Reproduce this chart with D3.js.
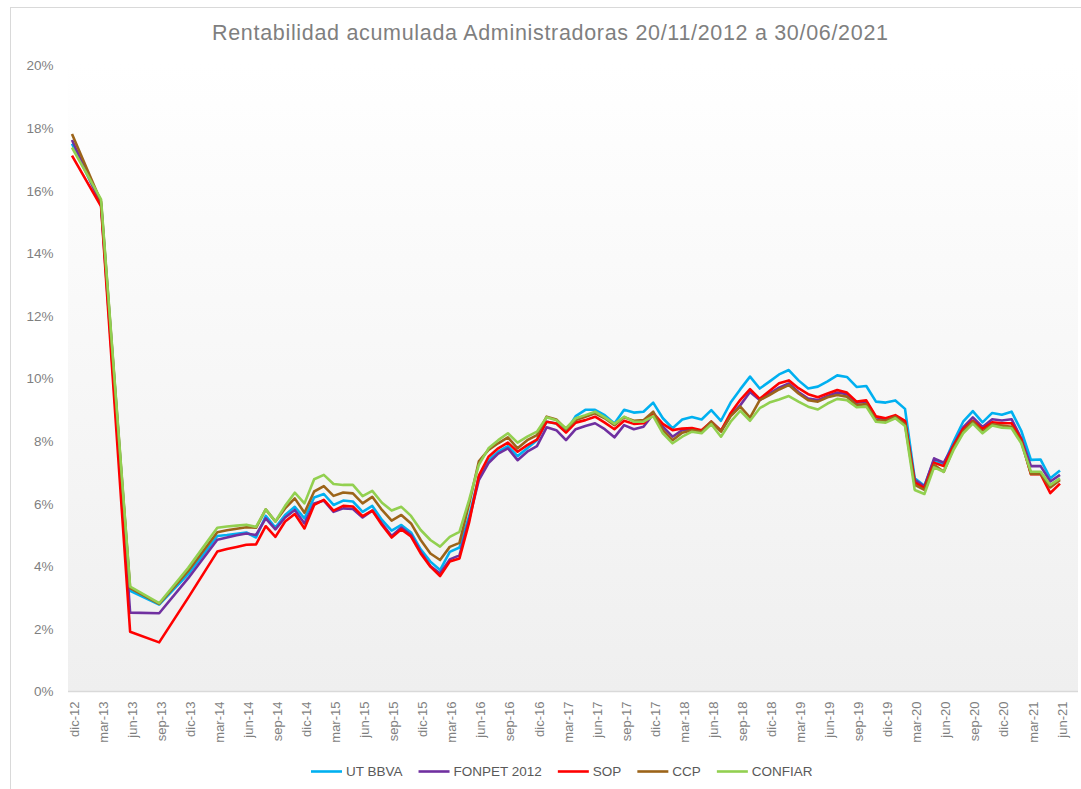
<!DOCTYPE html>
<html><head><meta charset="utf-8">
<script src="https://cdn.jsdelivr.net/npm/d3@7"></script>
<style>body{margin:0;background:#fff;} svg{display:block;font-family:Arial,"Liberation Sans",sans-serif;}</style>
</head><body><svg id="c" width="1081" height="789"></svg>
<script>
const dates = ["2012-12","2013-03","2013-06","2013-09","2013-12",
"2014-03","2014-04","2014-05","2014-06","2014-07","2014-08","2014-09","2014-10","2014-11","2014-12",
"2015-01","2015-02","2015-03","2015-04","2015-05","2015-06","2015-07","2015-08","2015-09","2015-10","2015-11","2015-12",
"2016-01","2016-02","2016-03","2016-04","2016-05","2016-06","2016-07","2016-08","2016-09","2016-10","2016-11","2016-12",
"2017-01","2017-02","2017-03","2017-04","2017-05","2017-06","2017-07","2017-08","2017-09","2017-10","2017-11","2017-12",
"2018-01","2018-02","2018-03","2018-04","2018-05","2018-06","2018-07","2018-08","2018-09","2018-10","2018-11","2018-12",
"2019-01","2019-02","2019-03","2019-04","2019-05","2019-06","2019-07","2019-08","2019-09","2019-10","2019-11","2019-12",
"2020-01","2020-02","2020-03","2020-04","2020-05","2020-06","2020-07","2020-08","2020-09","2020-10","2020-11","2020-12",
"2021-01","2021-02","2021-03","2021-04","2021-05","2021-06"];

const tickLabels = ["dic-12","mar-13","jun-13","sep-13","dic-13","mar-14","jun-14","sep-14","dic-14","mar-15","jun-15","sep-15","dic-15","mar-16","jun-16","sep-16","dic-16","mar-17","jun-17","sep-17","dic-17","mar-18","jun-18","sep-18","dic-18","mar-19","jun-19","sep-19","dic-19","mar-20","jun-20","sep-20","dic-20","mar-21","jun-21"];

const yTicks = [0,2,4,6,8,10,12,14,16,18,20];

const seriesNames = ["UT BBVA","FONPET 2012","SOP","CCP","CONFIAR"];

const utBbva = [17.5,15.6,3.22,2.78,3.75,
4.97,5.0,5.04,5.08,4.92,5.61,5.24,5.64,5.9,5.53,
6.2,6.31,5.96,6.1,6.07,5.74,5.93,5.48,5.14,5.32,5.08,4.54,
4.15,3.88,4.46,4.6,5.6,6.86,7.39,7.66,7.84,7.52,7.77,8.03,
8.62,8.56,8.3,8.8,9.0,9.0,8.83,8.56,9.0,8.91,8.94,9.23,
8.73,8.41,8.69,8.77,8.69,8.99,8.65,9.23,9.66,10.06,9.68,9.9,
10.13,10.27,9.94,9.68,9.74,9.91,10.1,10.05,9.73,9.76,9.26,9.23,
9.3,9.03,6.81,6.57,7.4,7.25,7.98,8.62,8.96,8.6,8.9,8.84,
8.94,8.33,7.4,7.41,6.81,7.06];

const fonpet2012 = [17.62,15.55,2.52,2.5,3.62,
4.85,4.92,4.99,5.05,5.0,5.53,5.18,5.56,5.8,5.37,
6.01,6.1,5.74,5.85,5.83,5.56,5.78,5.37,4.97,5.24,5.0,4.46,
4.01,3.77,4.22,4.35,5.5,6.75,7.3,7.6,7.77,7.39,7.66,7.84,
8.44,8.35,8.03,8.38,8.48,8.57,8.38,8.12,8.51,8.38,8.46,8.86,
8.46,8.14,8.35,8.37,8.3,8.62,8.33,8.83,9.15,9.57,9.31,9.52,
9.71,9.84,9.57,9.36,9.31,9.44,9.55,9.5,9.23,9.26,8.76,8.69,
8.8,8.62,6.76,6.55,7.45,7.31,7.87,8.44,8.76,8.45,8.7,8.66,
8.7,8.09,7.2,7.2,6.71,6.92];

const sop = [17.12,15.5,1.91,1.57,3.0,
4.47,4.55,4.62,4.69,4.7,5.28,4.94,5.43,5.67,5.21,
5.96,6.12,5.78,5.93,5.91,5.6,5.78,5.32,4.92,5.18,4.95,4.41,
3.99,3.69,4.15,4.25,5.4,6.9,7.5,7.77,7.95,7.66,7.87,8.05,
8.62,8.56,8.27,8.59,8.67,8.78,8.59,8.38,8.65,8.55,8.57,8.89,
8.55,8.35,8.4,8.42,8.35,8.62,8.33,8.9,9.32,9.66,9.35,9.6,
9.85,9.94,9.69,9.5,9.4,9.52,9.63,9.55,9.26,9.3,8.79,8.73,
8.83,8.65,6.68,6.5,7.31,7.2,7.84,8.38,8.65,8.39,8.6,8.57,
8.57,8.05,6.94,6.94,6.34,6.64];

const ccp = [17.81,15.65,3.3,2.8,3.85,
5.09,5.15,5.2,5.25,5.23,5.82,5.43,5.85,6.17,5.71,
6.39,6.56,6.25,6.36,6.33,6.01,6.22,5.8,5.46,5.64,5.37,4.84,
4.41,4.2,4.62,4.75,6.0,7.35,7.72,7.93,8.12,7.77,8.03,8.19,
8.78,8.69,8.38,8.67,8.78,8.89,8.73,8.51,8.76,8.65,8.67,8.94,
8.35,8.03,8.27,8.35,8.3,8.62,8.3,8.8,9.1,8.75,9.31,9.47,
9.65,9.79,9.52,9.31,9.26,9.4,9.47,9.42,9.15,9.18,8.67,8.65,
8.78,8.54,6.6,6.44,7.24,7.02,7.77,8.3,8.63,8.3,8.54,8.5,
8.46,7.98,6.95,6.95,6.52,6.76];

const confiar = [17.38,15.72,3.35,2.82,3.95,
5.23,5.27,5.3,5.33,5.26,5.82,5.43,5.93,6.35,6.01,
6.78,6.92,6.63,6.6,6.6,6.24,6.41,6.03,5.78,5.9,5.61,5.16,
4.84,4.63,4.94,5.1,6.12,7.24,7.77,8.03,8.25,7.95,8.14,8.3,
8.76,8.67,8.41,8.73,8.83,8.94,8.76,8.55,8.78,8.62,8.62,8.8,
8.25,7.93,8.14,8.3,8.25,8.54,8.14,8.62,8.97,8.65,9.05,9.23,
9.33,9.44,9.26,9.1,9.01,9.2,9.35,9.31,9.08,9.1,8.62,8.59,
8.73,8.48,6.44,6.31,7.16,7.02,7.71,8.25,8.56,8.25,8.5,8.43,
8.41,7.93,7.02,7.02,6.6,6.81];

const colors = ["#00b0f0","#7030a0","#ff0000","#9c6419","#92d050"];
const allSeries = [utBbva, fonpet2012, sop, ccp, confiar];

// month index from Dec 2012
function monthIndex(s){ const p = s.split("-").map(Number); return (p[0]-2012)*12 + (p[1]-12); }
const mIdx = dates.map(monthIndex);
const lastM = monthIndex("2021-06");

const svg = d3.select("#c");
const plotL = 68, plotR = 1078, plotT = 64, plotB = 691.5;
const x = d3.scaleLinear().domain([0,lastM]).range([72,1060]);
const y = d3.scaleLinear().domain([0,20]).range([plotB,65.5]);

// outer chart border
svg.append("rect").attr("x",10.5).attr("y",7.5).attr("width",1100).attr("height",800)
  .attr("fill","#fff").attr("stroke","#d9d9d9").attr("stroke-width",1);

// plot area gradient
const defs = svg.append("defs");
const grad = defs.append("linearGradient").attr("id","pg").attr("x1",0).attr("y1",0).attr("x2",0).attr("y2",1);
grad.append("stop").attr("offset","0%").attr("stop-color","#ffffff");
grad.append("stop").attr("offset","100%").attr("stop-color","#efefef");
svg.append("rect").attr("x",plotL).attr("y",plotT).attr("width",plotR-plotL).attr("height",plotB-plotT).attr("fill","url(#pg)");

// title
svg.append("text").attr("x",550).attr("y",40).attr("text-anchor","middle")
  .attr("font-size",21.5).attr("fill","#7f7f7f")
  .attr("textLength",676).attr("lengthAdjust","spacing")
  .text("Rentabilidad acumulada Administradoras 20/11/2012 a 30/06/2021");

// y axis
const yAxis = svg.append("g").attr("transform",`translate(${plotL},0)`)
  .call(d3.axisLeft(y).tickValues(yTicks).tickFormat(d=>d+"%").tickSize(0).tickPadding(14.5));
yAxis.select(".domain").remove();
yAxis.selectAll("text").attr("font-size",13.5).attr("fill","#7f7f7f").attr("font-family","Arial,'Liberation Sans',sans-serif");

// x axis
const xTickVals = d3.range(0,lastM+1,3);
const xAxis = svg.append("g").attr("transform",`translate(0,${plotB})`)
  .call(d3.axisBottom(x).tickValues(xTickVals).tickFormat((d,i)=>tickLabels[i]).tickSize(0));
xAxis.select(".domain").attr("d",`M${plotL},0H${plotR}`).attr("stroke","#d9d9d9").attr("stroke-width",1.5);
xAxis.selectAll("text").attr("font-size",13).attr("fill","#7f7f7f").attr("font-family","Arial,'Liberation Sans',sans-serif")
  .attr("text-anchor","end").attr("transform","rotate(-90)")
  .attr("x",-10).attr("y",0).attr("dy","0.35em").attr("dx",0);
xAxis.selectAll(".tick").attr("transform",d=>`translate(${x(d)+2},0)`);

// lines
const line = d3.line().x((d,i)=>x(mIdx[i])).y(d=>y(d));
allSeries.forEach((s,k)=>{
  svg.append("path").datum(s).attr("fill","none").attr("stroke",colors[k])
    .attr("stroke-width",2.6).attr("stroke-linejoin","round").attr("d",line);
});

// legend
const lg = svg.append("g");
let cx = 311;
const ly = 771.5;
seriesNames.forEach((n,k)=>{
  lg.append("line").attr("x1",cx).attr("x2",cx+31).attr("y1",ly).attr("y2",ly)
    .attr("stroke",colors[k]).attr("stroke-width",2.6);
  const t = lg.append("text").attr("x",cx+35).attr("y",ly).attr("dy","0.35em")
    .attr("font-size",13.5).attr("fill","#595959").text(n);
  cx += 35 + t.node().getComputedTextLength() + 16;
});
</script></body></html>
